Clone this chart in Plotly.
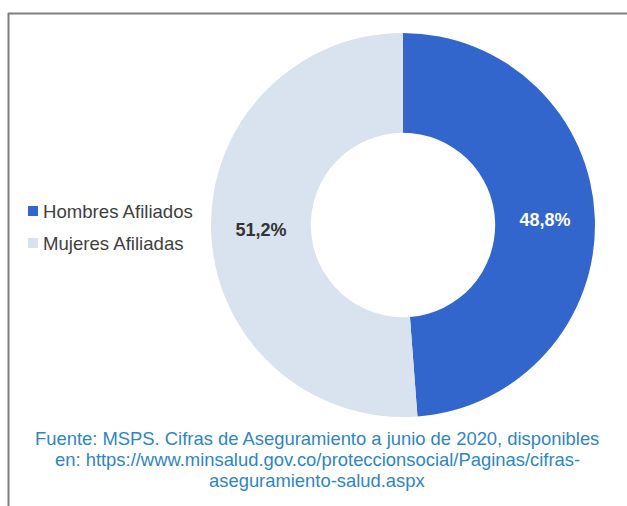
import plotly.graph_objects as go

labels = ["Hombres Afiliados", "Mujeres Afiliadas"]
values = [48.8, 51.2]
value_text = ["48,8%", "51,2%"]
colors = ["#3366CC", "#D9E2EF"]
text_colors = ["#FFFFFF", "#333333"]
caption_lines = [
    "Fuente: MSPS. Cifras de Aseguramiento a junio de 2020, disponibles",
    "en: https://www.minsalud.gov.co/proteccionsocial/Paginas/cifras-",
    "aseguramiento-salud.aspx",
]

W, H = 627, 506
FONT = "Liberation Sans, Arial, sans-serif"

fig = go.Figure()
fig.add_trace(go.Pie(
    labels=labels,
    values=values,
    text=value_text,
    textinfo="text",
    textposition="inside",
    insidetextorientation="horizontal",
    textfont=dict(family=FONT, size=18, color=text_colors, weight="bold"),
    marker=dict(colors=colors, line=dict(width=0)),
    hole=0.48,
    sort=False,
    direction="clockwise",
    rotation=0,
    domain=dict(x=[211 / W, 595 / W], y=[1 - 417 / H, 1 - 33 / H]),
    hoverinfo="label+text",
    showlegend=False,
))

annotations = []
shapes = []

# legend (drawn next to the donut, as in the reference)
leg_y = [211, 243]
for lab, col, yc in zip(labels, colors, leg_y):
    shapes.append(dict(type="rect", xref="paper", yref="paper",
                       x0=28 / W, x1=38 / W, y0=1 - (yc + 5) / H, y1=1 - (yc - 5) / H,
                       fillcolor=col, line=dict(width=0)))
    annotations.append(dict(text=lab, x=41 / W, y=1 - yc / H, xref="paper", yref="paper",
                            xanchor="left", yanchor="middle", showarrow=False,
                            font=dict(size=18.6, color="#404040", family=FONT)))

# caption
cap_y = [438, 459, 480]
for line, yc in zip(caption_lines, cap_y):
    annotations.append(dict(text=line, x=317 / W, y=1 - yc / H, xref="paper", yref="paper",
                            xanchor="center", yanchor="middle", showarrow=False,
                            font=dict(size=18.4, color="#2F85C4", family=FONT)))

# frame
shapes += [
    dict(type="line", xref="paper", yref="paper", x0=8 / W, x1=1.0, y0=1 - 13.5 / H, y1=1 - 13.5 / H,
         line=dict(color="#7F7F7F", width=2)),
    dict(type="line", xref="paper", yref="paper", x0=8.5 / W, x1=8.5 / W, y0=0, y1=1 - 13 / H,
         line=dict(color="#7F7F7F", width=2)),
]

fig.update_layout(
    width=W, height=H,
    margin=dict(l=0, r=0, t=0, b=0),
    paper_bgcolor="white",
    plot_bgcolor="white",
    font=dict(family=FONT),
    showlegend=False,
    annotations=annotations,
    shapes=shapes,
)

fig.write_html("out.html")
